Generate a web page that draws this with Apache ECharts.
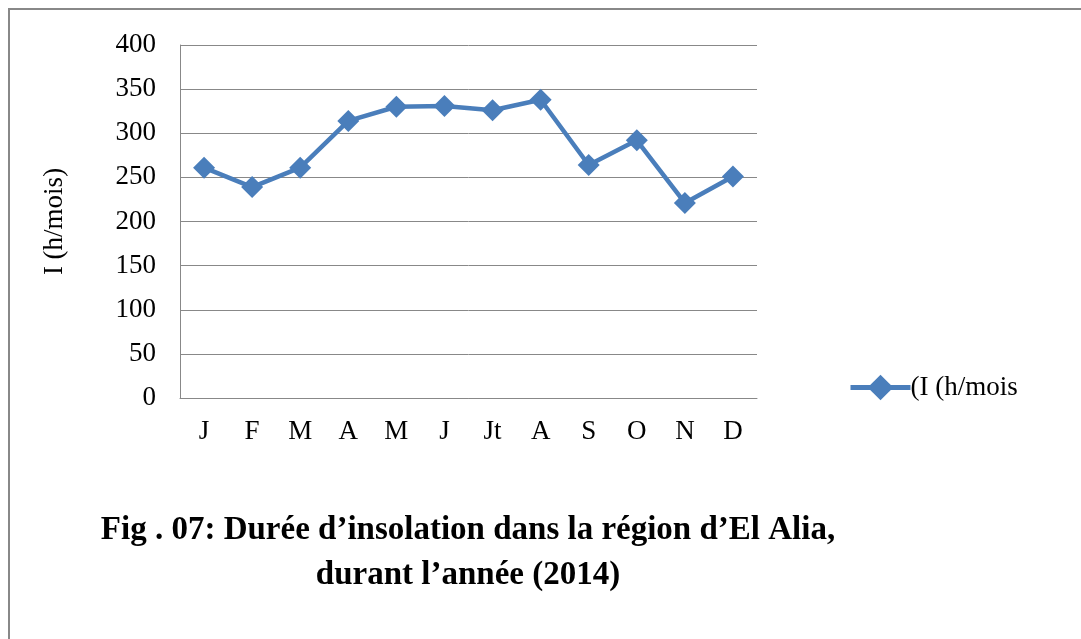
<!DOCTYPE html>
<html>
<head>
<meta charset="utf-8">
<script src="https://cdn.jsdelivr.net/npm/echarts@6/dist/echarts.min.js"></script>
<style>
  html, body { margin: 0; padding: 0; background: #fff; }
  #chart { width: 1081px; height: 639px; }
</style>
</head>
<body>
<div id="chart"></div>
<script>
// ====== données ======
const months = ["J", "F", "M", "A", "M", "J", "Jt", "A", "S", "O", "N", "D"];
const insolation = [261, 239, 261, 314, 330, 331, 326, 338, 264, 292, 221, 251];
const seriesName = "(I (h/mois";
const yTicks = { min: 0, max: 400, interval: 50 };
const titleLines = ["Fig . 07: Durée d’insolation dans la région d’El Alia,", "durant l’année (2014)"];

const chart = echarts.init(document.getElementById("chart"));
const serif = "'Liberation Serif', 'DejaVu Serif', serif";

chart.setOption({
  backgroundColor: "#fff",
  animation: false,
  title: [
    { text: titleLines[0], left: 463, top: 509, textAlign: "center",
      textStyle: { fontFamily: serif, fontWeight: "bold", fontSize: 33, color: "#000" } },
    { text: titleLines[1], left: 463, top: 554, textAlign: "center",
      textStyle: { fontFamily: serif, fontWeight: "bold", fontSize: 33, color: "#000" } }
  ],
  // cadre gris autour du graphique
  graphic: [{
    type: "rect", z: -1,
    shape: { x: 9, y: 9, width: 1200, height: 800 },
    style: { fill: null, stroke: "#888", lineWidth: 2 }
  }],
  legend: {
    left: 843, top: 369,
    itemWidth: 60, itemHeight: 32, itemGap: 4,
    lineStyle: { width: 5 },
    textStyle: { fontFamily: serif, fontSize: 27, color: "#000", padding: [0, 0, 0, -5] },
    data: [seriesName]
  },
  grid: { left: 180, right: 324, top: 45, bottom: 241 },
  xAxis: {
    type: "category",
    data: months,
    boundaryGap: true,
    axisLine: { lineStyle: { color: "#888", width: 1 } },
    axisTick: { show: false },
    axisLabel: { fontFamily: serif, fontSize: 27, color: "#000", margin: 20 }
  },
  yAxis: {
    type: "value",
    min: yTicks.min, max: yTicks.max, interval: yTicks.interval,
    name: "I (h/mois)",
    nameLocation: "middle",
    nameGap: 112,
    nameTextStyle: { fontFamily: serif, fontSize: 27, color: "#000" },
    axisLine: { show: true, lineStyle: { color: "#888", width: 1 } },
    axisTick: { show: false },
    splitLine: { lineStyle: { color: "#888", width: 1 } },
    axisLabel: { fontFamily: serif, fontSize: 27, color: "#000", margin: 24 }
  },
  series: [{
    name: seriesName,
    type: "line",
    data: insolation,
    symbol: "diamond",
    symbolSize: 22,
    lineStyle: { color: "#4a7ebb", width: 4.5 },
    itemStyle: { color: "#4a7ebb" }
  }]
});

window.addEventListener("resize", () => chart.resize());
</script>
</body>
</html>
